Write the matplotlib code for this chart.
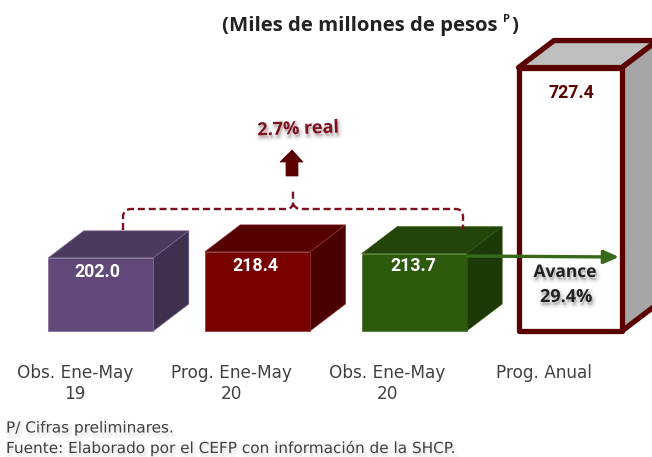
import matplotlib
matplotlib.use('Agg')
import matplotlib.pyplot as plt
import matplotlib.patheffects as pe
from matplotlib.patches import Polygon, PathPatch
from matplotlib.path import Path

# Data
values = [202.0, 218.4, 213.7, 727.4]
value_labels = ['202.0', '218.4', '213.7', '727.4']
categories = ['Obs. Ene-May\n19', 'Prog. Ene-May\n20', 'Obs. Ene-May\n20', 'Prog. Anual']
front_colors = ['#614a7a', '#780000', '#2d5a0c', '#ffffff']
top_colors = ['#4b3a5e', '#560000', '#234509', '#bfbfbf']
side_colors = ['#3f3050', '#4a0000', '#1c3a07', '#a6a6a6']
edge_colors = ['#7a6890', '#8a3030', '#2d5a0c', '#5a0000']
edge_widths = [0.5, 0.5, 0.4, 3.8]

W, H = 652, 457
BASE = 331      # pixel row of value 0
SCALE = 0.3622  # pixels per unit
bar_left = [48.3, 204.7, 361.7, 518.5]
bar_width = [105, 105.3, 105, 103.5]
DX, DY = 35.5, 27

fig = plt.figure(figsize=(W / 100, H / 100), dpi=100)

# bars live in value units, y=0 sits on the common base
ax = fig.add_axes([0, 0, 1, 1])
ax.set_xlim(0, W)
ax.set_ylim((BASE - H) / SCALE, BASE / SCALE)
ax.axis('off')

# overlay in pixels for the notes
ann = fig.add_axes([0, 0, 1, 1])
ann.set_xlim(0, W)
ann.set_ylim(H, 0)
ann.axis('off')
ann.patch.set_visible(False)

dy = DY / SCALE
for i, v in enumerate(values):
    x0, x1 = bar_left[i], bar_left[i] + bar_width[i]
    ec, lw = edge_colors[i], edge_widths[i]
    ax.add_patch(Polygon([(x0, v), (x1, v), (x1 + DX, v + dy), (x0 + DX, v + dy)],
                         fc=top_colors[i], ec=ec, lw=lw, joinstyle='round'))
    ax.add_patch(Polygon([(x1, 0), (x1 + DX, dy), (x1 + DX, v + dy), (x1, v)],
                         fc=side_colors[i], ec=ec, lw=lw, joinstyle='round'))
    ax.add_patch(Polygon([(x0, 0), (x1, 0), (x1, v), (x0, v)],
                         fc=front_colors[i], ec=ec, lw=lw, joinstyle='round'))

value_pos = [(97, 272), (255, 266), (413, 266), (571, 93)]
value_cols = ['white', 'white', 'white', '#5a0000']
for lab, pos, c in zip(value_labels, value_pos, value_cols):
    ann.text(pos[0], pos[1], lab, color=c, fontsize=12.8, fontweight='bold',
             family='Roboto', ha='center', va='center')

# category labels
label_x = [75, 231, 387, 544]
for x, lab in zip(label_x, categories):
    ann.text(x, 364, lab, fontsize=12.2, family='DejaVu Sans', color='#404040',
             ha='center', va='top', linespacing=1.2)

# title
ann.text(222, 26, '(Miles de millones de pesos', fontsize=14.7, fontweight='bold',
         family='Open Sans', color='#222222', ha='left', va='center')
ann.text(503, 20, 'P', fontsize=8, fontweight='bold', family='Open Sans',
         color='#222222', ha='left', va='center')
ann.text(511, 26, ')', fontsize=14.7, fontweight='bold', family='Open Sans',
         color='#222222', ha='left', va='center')

# dashed bracket
verts = [(123, 230), (123, 216), (124, 209), (131, 209), (288, 209), (292, 208), (293, 204), (293, 188),
         (293, 204), (295, 208), (299, 209), (456, 209), (462, 209), (463, 216), (463, 229)]
codes = [Path.MOVETO, Path.LINETO, Path.CURVE3, Path.CURVE3, Path.LINETO, Path.CURVE3, Path.CURVE3, Path.LINETO,
         Path.MOVETO, Path.CURVE3, Path.CURVE3, Path.LINETO, Path.CURVE3, Path.CURVE3, Path.LINETO]
ann.add_patch(PathPatch(Path(verts, codes), fc='none', ec='#7b1020', lw=1.7,
                        linestyle=(0, (3.0, 1.6))))

# up arrow
ann.add_patch(Polygon([(286, 176), (286, 162), (280, 162), (292, 150), (303, 162), (298, 162), (298, 176)],
                      fc='#5a0000', ec='#5a0000', lw=0.5))

soft = [pe.Stroke(linewidth=5, foreground='#888888', alpha=0.08, offset=(1, -2)),
        pe.Stroke(linewidth=2.5, foreground='#888888', alpha=0.15, offset=(1, -2)), pe.Normal()]
faint = [pe.Stroke(linewidth=4, foreground='#999999', alpha=0.07, offset=(1, -2)), pe.Normal()]
ann.text(298, 129, '2.7% real', fontsize=13, fontweight='bold', family='Open Sans',
         color='#7b1020', ha='center', va='center', rotation=2, path_effects=soft)

# green arrow
ann.annotate('', xy=(619, 257), xytext=(467, 256),
             arrowprops=dict(arrowstyle='-|>,head_width=0.4,head_length=0.9', color='#38691a', lw=2.4,
                             shrinkA=0, shrinkB=0))

ann.text(565, 272, 'Avance', fontsize=12.5, fontweight='bold', family='Open Sans', color='#222222',
         ha='center', va='center', path_effects=soft)
ann.text(566, 297, '29.4%', fontsize=13, fontweight='bold', family='Open Sans', color='#222222',
         ha='center', va='center', path_effects=soft)

# notes
ann.text(6, 428, 'P/ Cifras preliminares.', fontsize=11, family='DejaVu Sans', color='#404040',
         ha='left', va='center', path_effects=faint)
ann.text(6, 448, 'Fuente: Elaborado por el CEFP con información de la SHCP.', fontsize=11, family='DejaVu Sans',
         color='#404040', ha='left', va='center', path_effects=faint)

fig.savefig('out.png', dpi=100, facecolor='white')
